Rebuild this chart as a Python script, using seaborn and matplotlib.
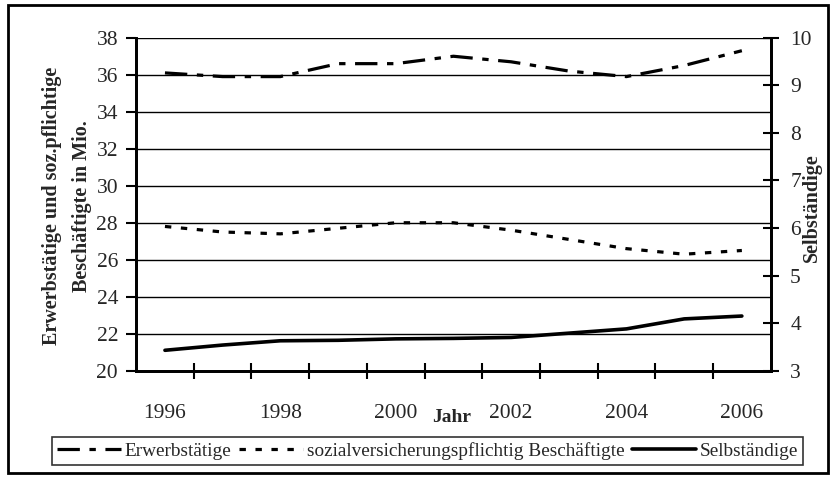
import numpy as np
import pandas as pd
import matplotlib
matplotlib.use("Agg")
import matplotlib.pyplot as plt
import seaborn as sns
from matplotlib.patches import Rectangle

# Daten
jahre = [1996, 1997, 1998, 1999, 2000, 2001, 2002, 2003, 2004, 2005, 2006]
erwerbstaetige = [36.1, 35.9, 35.9, 36.6, 36.6, 37.0, 36.7, 36.2, 35.9, 36.5, 37.3]
sozialversichert = [27.8, 27.5, 27.4, 27.7, 28.0, 28.0, 27.6, 27.1, 26.6, 26.3, 26.5]
selbstaendige = [3.43, 3.54, 3.63, 3.64, 3.67, 3.68, 3.70, 3.79, 3.88, 4.09, 4.15]
jahr_labels = [1996, 1998, 2000, 2002, 2004, 2006]
links_ticks = [20, 22, 24, 26, 28, 30, 32, 34, 36, 38]
rechts_ticks = [3, 4, 5, 6, 7, 8, 9, 10]

df = pd.DataFrame({
    "Jahr": jahre,
    "Erwerbstätige": erwerbstaetige,
    "sozialversicherungspflichtig Beschäftigte": sozialversichert,
    "Selbständige": selbstaendige,
})

sns.set_theme(style="white")
plt.rcParams["font.family"] = ["Liberation Serif", "DejaVu Serif"]

fig = plt.figure(figsize=(8.35, 4.84), dpi=100)
ax = fig.add_axes([0.163, 0.234, 0.760, 0.688])
ax2 = ax.twinx()

# linke Achse : Erwerbstaetige und soz.pflichtige
sns.lineplot(data=df, x="Jahr", y="Erwerbstätige", ax=ax, color="black",
             lw=2.3, linestyle=(0, (7, 3, 2, 3)), legend=False)
sns.lineplot(data=df, x="Jahr", y="sozialversicherungspflichtig Beschäftigte", ax=ax,
             color="black", lw=2.3, linestyle=(0, (2, 3)), legend=False)
# rechte Achse : Selbstaendige
sns.lineplot(data=df, x="Jahr", y="Selbständige", ax=ax2, color="black",
             lw=2.6, legend=False)

ax.set_xlim(1995.5, 2006.5)
ax.set_ylim(20, 38)
ax2.set_ylim(3, 10)

# Achsen-Ticks
ax.set_yticks(links_ticks)
ax.set_yticklabels([str(t) for t in links_ticks])
ax2.set_yticks(rechts_ticks)
ax2.set_yticklabels([str(t) for t in rechts_ticks])

# Trennstriche zwischen den Kategorien, Beschriftung in der Mitte
ax.set_xticks([j + 0.5 for j in jahre[:-1]])
ax.set_xticklabels([])
ax.set_xticks(jahr_labels, minor=True)
ax.set_xticklabels([str(j) for j in jahr_labels], minor=True)
ax.tick_params(axis="x", which="major", bottom=True, direction="inout", length=12,
               width=1.5, color="black")
ax.tick_params(axis="x", which="minor", bottom=True, length=0, pad=24, labelsize=15.5)
ax.tick_params(axis="y", left=True, direction="out", length=7, width=1.5, color="black",
               pad=6, labelsize=15.5)
ax2.tick_params(axis="y", right=True, direction="inout", length=12, width=1.5,
                color="black", pad=8, labelsize=15.5)

# Gitterlinien
ax.grid(axis="y", color="black", lw=1.0)
ax.grid(axis="x", visible=False)
ax2.grid(False)

for a in (ax, ax2):
    a.set_xlabel("")
    a.set_ylabel("")
    a.spines["top"].set_visible(False)
    for s in ("left", "bottom", "right"):
        a.spines[s].set_color("black")
        a.spines[s].set_linewidth(2.0)

# Beschriftungen
fig.text(0.080, 0.575, "Erwerbstätige und soz.pflichtige\nBeschäftigte in Mio.",
         rotation=90, ha="center", va="center", fontsize=14.5, fontweight="bold",
         linespacing=1.65, multialignment="center")
fig.text(0.972, 0.572, "Selbständige", rotation=90, ha="center", va="center",
         fontsize=14.5, fontweight="bold")
fig.text(0.541, 0.138, "Jahr", ha="center", va="center", fontsize=14, fontweight="bold")

# Legende unten
handles = ax.get_lines()[:2] + ax2.get_lines()[:1]
labels = ["Erwerbstätige", "sozialversicherungspflichtig Beschäftigte", "Selbständige"]
leg = fig.legend(handles, labels, loc="center", bbox_to_anchor=(0.512, 0.068), ncol=3,
                 fontsize=13.9, frameon=True, fancybox=False, handlelength=3.3,
                 handletextpad=0.2, columnspacing=0.4, borderpad=0.25)
leg.get_frame().set_edgecolor("black")
leg.get_frame().set_linewidth(1.2)

# Rahmen um die ganze Grafik
fig.patches.append(Rectangle((0.0096, 0.0227), 0.982, 0.967, transform=fig.transFigure,
                             fill=False, edgecolor="black", lw=2.0))

fig.savefig("out.png", dpi=100)
